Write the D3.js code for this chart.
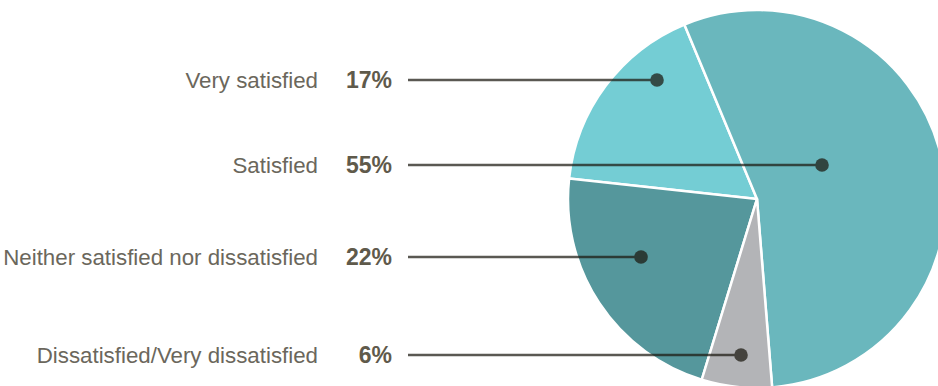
<!DOCTYPE html>
<html>
<head>
<meta charset="utf-8">
<script src="https://cdn.jsdelivr.net/npm/d3@7"></script>
<style>
  body { margin: 0; background: #fff; }
  .label { font-family: "Liberation Sans", Arial, sans-serif; font-size: 22.3px; fill: #6b675c; }
  .pct { font-family: "Liberation Sans", Arial, sans-serif; font-size: 23px; font-weight: bold; fill: #5f5a4b; }
</style>
</head>
<body>
<div id="chart"></div>
<script>
// categories, top to bottom as listed in the legend
var categories = ["Very satisfied", "Satisfied", "Neither satisfied nor dissatisfied", "Dissatisfied/Very dissatisfied"];
var values = [17, 55, 22, 6];
var colors = ["#74cdd4", "#6ab7bd", "#55979c", "#b3b4b7"];
// order the slices are drawn in, clockwise from the start angle
var sliceOrder = ["Satisfied", "Dissatisfied/Very dissatisfied", "Neither satisfied nor dissatisfied", "Very satisfied"];

var width = 938, height = 386;

// layout of the leader rows and where each dot sits
var rowY = [80, 165, 257, 355];
var dotX = [657, 822, 641, 741];
var cx = 757, cy = 199, radius = 189;

var data = categories.map(function(c, i) {
  return {name: c, value: values[i], color: colors[i], y: rowY[i], dx: dotX[i]};
});

var svg = d3.select("#chart").append("svg")
    .attr("width", width)
    .attr("height", height);

var pie = d3.pie()
    .value(function(d) { return d.value; })
    .sort(function(a, b) { return sliceOrder.indexOf(a.name) - sliceOrder.indexOf(b.name); })
    .startAngle(-22.6 * Math.PI / 180)
    .endAngle((360 - 22.6) * Math.PI / 180);

var arc = d3.arc()
    .innerRadius(0)
    .outerRadius(radius);

var g = svg.append("g")
    .attr("transform", "translate(" + cx + "," + cy + ")");

g.selectAll(".slice")
    .data(pie(data))
  .enter().append("path")
    .attr("class", "slice")
    .attr("d", arc)
    .style("fill", function(d) { return d.data.color; })
    .style("stroke", "#fff")
    .style("stroke-width", 2.5)
    .style("stroke-linejoin", "round");

// labels
svg.selectAll(".label")
    .data(data)
  .enter().append("text")
    .attr("class", "label")
    .attr("x", 318)
    .attr("y", function(d) { return d.y + 8; })
    .attr("text-anchor", "end")
    .text(function(d) { return d.name; });

svg.selectAll(".pct")
    .data(data)
  .enter().append("text")
    .attr("class", "pct")
    .attr("x", 392)
    .attr("y", function(d) { return d.y + 8; })
    .attr("text-anchor", "end")
    .text(function(d) { return d.value + "%"; });

// leader lines and dots
var leaders = svg.append("g").attr("opacity", 0.72);

leaders.selectAll(".leader")
    .data(data)
  .enter().append("line")
    .attr("class", "leader")
    .attr("x1", 408)
    .attr("x2", function(d) { return d.dx; })
    .attr("y1", function(d) { return d.y; })
    .attr("y2", function(d) { return d.y; })
    .style("stroke", "#1c1910")
    .style("stroke-width", 2.6);

leaders.selectAll(".dot")
    .data(data)
  .enter().append("circle")
    .attr("class", "dot")
    .attr("cx", function(d) { return d.dx; })
    .attr("cy", function(d) { return d.y; })
    .attr("r", 6.8)
    .style("fill", "#1c1910");
</script>
</body>
</html>
